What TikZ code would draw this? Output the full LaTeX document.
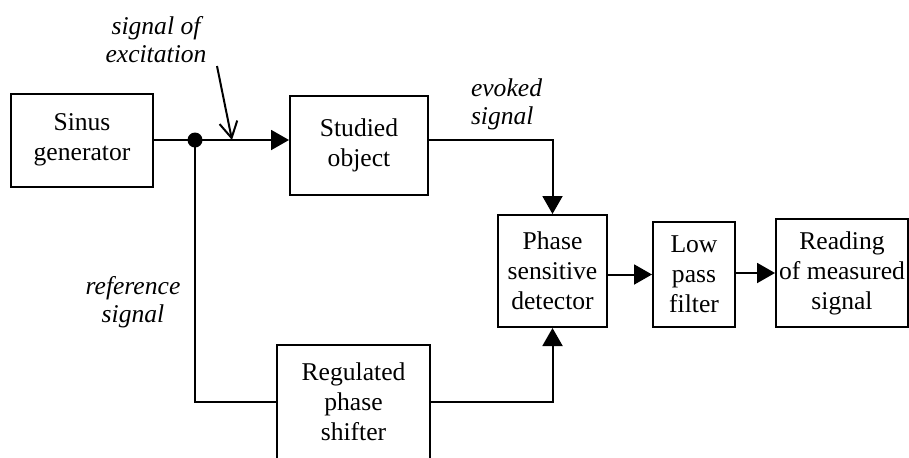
\documentclass[tikz,border=0pt]{standalone}
\usepackage{fontspec}
\setmainfont{Liberation Serif}
\usetikzlibrary{arrows.meta,positioning}

\begin{document}
\begin{tikzpicture}[
        x=0.5pt, y=-0.5pt,
        every path/.style={line width=1pt},
        block/.style={draw, line width=1pt, inner sep=0pt, align=center, font=\fontsize{12.8}{15}\selectfont},
        lbl/.style={inner sep=0pt, align=center, font=\fontsize{12.8}{14}\selectfont\itshape},
        dot/.style={circle, fill, inner sep=0pt, minimum size=7.5pt},
        sig/.style={-{Triangle[length=9pt,width=10pt]}},
        hint/.style={-{Straight Barb[length=8pt,width=9pt]}}
    ]
    \useasboundingbox (0,0) rectangle (909,457);

    % Blocks
      \node[block, minimum width=71pt, minimum height=46.5pt] (sinus) at (82,140) {Sinus\\generator};
      \node[block, minimum width=69pt, minimum height=49.5pt] (studied) at (359,145.5) {Studied\\object};
      \node[block, minimum width=54.5pt, minimum height=56pt] (psd) at (552.5,271) {Phase\\sensitive\\detector};
      \node[block, minimum width=41pt, minimum height=52.5pt] (lpf) at (694,274.5) {Low\\pass\\filter};
      \node[block, minimum width=66pt, minimum height=54pt] (reading) at (842,273) {Reading\\of measured\\signal};
      \node[block, minimum width=76.5pt, minimum height=57pt] (shifter) at (353.5,402) {Regulated\\phase\\shifter};

      \node[dot] (junc) at (195,140) {};
      \coordinate (exctail) at (217,66);
      \coordinate (exctip) at (232,140);

    % Labels
      \node[lbl] (excitation) at (156,40) {signal of\\excitation};
      \node[lbl, align=left, anchor=west] (evoked) at (470,104) {evoked\\signal};
      \node[lbl] (reference) at (133,302) {reference\\signal};

    % Connectors
    \draw[sig] (sinus.east) -- (sinus.east -| studied.west);
    \draw[hint] (exctail) -- (exctip);
    \draw (junc.center) |- (shifter.west);
    \draw[sig] (studied.east |- junc) -| (psd.north);
    \draw[sig] (shifter.east) -| (psd.south);
    \draw[sig] (psd.east |- lpf.west) -- (lpf.west);
    \draw[sig] (lpf.east |- reading.west) -- (reading.west);

\end{tikzpicture}
\end{document}
